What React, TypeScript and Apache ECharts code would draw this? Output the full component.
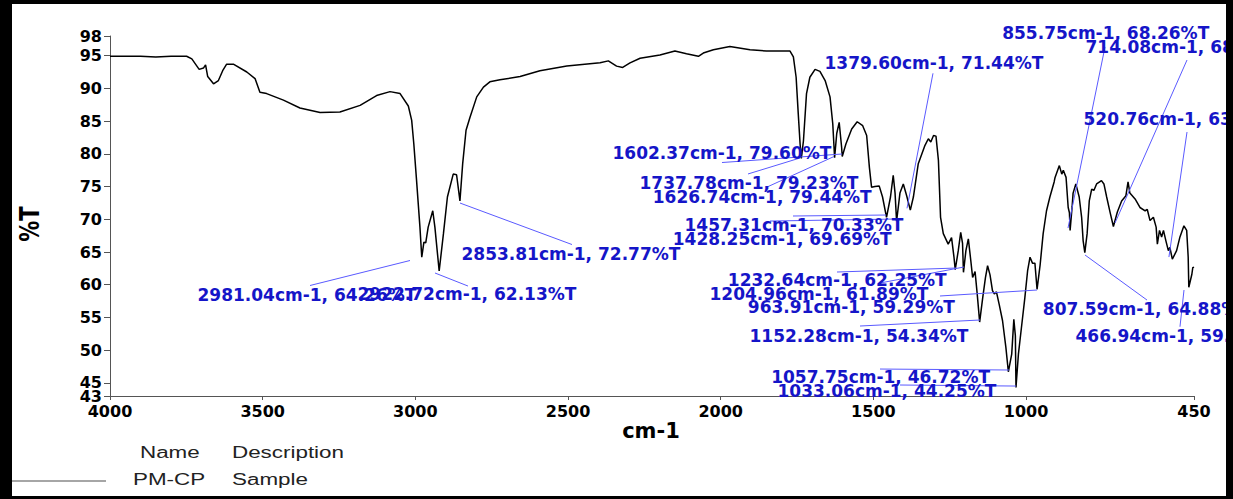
import React, { useEffect, useRef } from "react";
import * as echarts from "echarts";

// FTIR spectrum of sample PM-CP (wavenumber cm-1, %T)
const wavenumbers = [
  4000, 3900, 3850, 3800, 3749, 3732, 3708, 3694, 3687, 3680, 3661, 3645, 3631, 3618, 3596, 3552, 3525, 3509,
  3487, 3432, 3378, 3312, 3247, 3181, 3127, 3083, 3050, 3023, 3012, 3005, 2996, 2985, 2979, 2972, 2966, 2958,
  2943, 2936, 2922, 2908, 2895, 2876, 2865, 2854, 2845, 2834, 2821, 2799, 2777, 2756, 2723, 2657, 2592, 2504,
  2395, 2368, 2341, 2321, 2297, 2264, 2199, 2150, 2112, 2073, 2057, 2024, 1970, 1904, 1850, 1784, 1773, 1762,
  1753, 1746, 1740, 1736, 1729, 1719, 1708, 1691, 1675, 1658, 1642, 1633, 1627, 1620, 1612, 1604, 1602, 1590,
  1571, 1553, 1535, 1522, 1513, 1506, 1495, 1481, 1470, 1457, 1444, 1435, 1429, 1424, 1413, 1402, 1391, 1379,
  1369, 1353, 1331, 1320, 1312, 1303, 1295, 1287, 1280, 1271, 1255, 1244, 1236, 1232, 1222, 1214, 1208, 1205,
  1197, 1189, 1181, 1175, 1167, 1160, 1152, 1142, 1133, 1126, 1118, 1110, 1104, 1097, 1088, 1077, 1066, 1058,
  1047, 1040, 1035, 1033, 1025, 1015, 1004, 995, 987, 979, 971, 964, 954, 944, 933, 922, 908, 905, 891, 883,
  878, 869, 862, 858, 855.75, 849, 846, 837, 826, 818, 813, 807.6, 800, 793, 785, 778, 769, 753, 745, 736, 725,
  714, 701, 687, 673, 666, 660, 643, 627, 610, 603, 594, 583, 574, 570, 563, 556, 550, 542, 534, 529, 521, 507,
  496, 483, 474, 469, 467, 457, 454, 450,
];
const transmittance = [
  94.9, 94.9, 94.8, 94.9, 94.9, 94.5, 92.9, 93.1, 93.6, 91.8, 90.7, 91.2, 92.7, 93.7, 93.7, 92.5, 91.5, 89.4,
  89.2, 88.2, 87.0, 86.3, 86.4, 87.4, 88.9, 89.5, 89.2, 87.3, 85.1, 81.5, 75.9, 68.8, 64.2, 66.5, 66.4, 68.8,
  71.3, 68.8, 62.1, 67.8, 73.4, 76.9, 76.8, 72.8, 78.5, 83.6, 85.6, 88.7, 90.2, 91.0, 91.3, 91.8, 92.7, 93.4,
  93.9, 94.2, 93.4, 93.2, 93.9, 94.6, 95.1, 95.7, 95.3, 94.9, 95.4, 95.9, 96.4, 95.9, 95.7, 95.7, 95.7, 94.8,
  91.7, 86.1, 81.5, 79.3, 82.0, 89.2, 91.7, 92.9, 92.6, 91.2, 88.7, 84.6, 79.4, 83.1, 84.8, 81.0, 79.6, 81.5,
  83.8, 84.9, 84.3, 82.8, 77.9, 74.9, 75.0, 75.1, 73.4, 70.3, 73.4, 76.7, 74.0, 69.7, 74.0, 75.4, 73.6, 71.4,
  73.4, 78.5, 81.3, 82.3, 81.8, 82.8, 82.7, 79.0, 70.3, 67.8, 66.2, 67.2, 64.2, 62.3, 65.2, 68.0, 66.3, 61.9,
  65.2, 67.0, 63.7, 61.1, 62.0, 58.6, 54.3, 58.0, 61.1, 62.9, 61.5, 59.1, 58.6, 58.9, 57.0, 54.5, 50.4, 46.7,
  49.4, 54.7, 52.2, 44.3, 49.4, 53.5, 58.0, 62.1, 64.2, 63.3, 63.3, 59.3, 63.0, 67.8, 71.3, 73.4, 75.7, 76.4, 78.2, 76.9,
  77.5, 76.4, 71.8, 71.0, 68.3, 72.0, 74.0, 75.4, 73.4, 70.3, 66.7, 64.9, 67.8, 72.8, 74.6, 74.4, 75.4, 75.9, 75.4, 73.4, 71.1,
  68.9, 71.1, 72.8, 73.6, 75.7, 74.0, 73.1, 71.8, 71.3, 71.5, 69.8, 70.3, 68.8, 66.2, 68.3, 67.3, 68.3, 66.7, 65.2, 65.7, 63.9, 65.2,
  67.3, 69.0, 68.3, 64.2, 59.6, 61.6, 62.6, 62.7,
];

const xTicks = [4000, 3500, 3000, 2500, 2000, 1500, 1000, 450];
const yTicks = [45, 50, 55, 60, 65, 70, 75, 80, 85, 90, 95, 98];
const yMinTick = [43];

// Peak annotations
const peakTexts = [
  "2981.04cm-1, 64.26%T", "2922.72cm-1, 62.13%T", "2853.81cm-1, 72.77%T", "1602.37cm-1, 79.60%T",
  "1737.78cm-1, 79.23%T", "1626.74cm-1, 79.44%T", "1457.31cm-1, 70.33%T", "1428.25cm-1, 69.69%T",
  "1379.60cm-1, 71.44%T", "855.75cm-1, 68.26%T", "714.08cm-1, 68.93%T", "520.76cm-1, 63.87%T",
  "1232.64cm-1, 62.25%T", "1204.96cm-1, 61.89%T", "963.91cm-1, 59.29%T", "1152.28cm-1, 54.34%T",
  "1057.75cm-1, 46.72%T", "1033.06cm-1, 44.25%T", "807.59cm-1, 64.88%T", "466.94cm-1, 59.61%T",
];
// label anchor (left, middle) in data coordinates
const labelWn = [3711.8, 3187.8, 2847.2, 2352.7, 2264.3, 2220.8, 2116.9, 2155.3, 1658.4, 1076.5, 803.7, 810.2,
  1975.1, 2035.1, 1909.6, 1904.1, 1833.0, 1812.4, 943.5, 836.4];
const labelT = [58.32, 58.58, 64.69, 80.05, 75.49, 73.29, 69.08, 66.98, 93.83, 98.0, 96.24, 85.17,
  60.57, 58.58, 56.52, 52.06, 45.79, 43.65, 56.29, 52.16];
// leader lines in data coordinates
const leaderFromWn = [3345.0, 2935.7, 2853.8, 1995.8, 1910.6, 1851.7, 1763.2, 1838.6, 1304.8, 741.5, 472.9, 472.9,
  1619.1, 1478.3, 1281.8, 1543.8, 1478.3, 1412.8, 806.9, 482.7];
const leaderFromT = [59.88, 61.79, 72.48, 78.67, 76.92, 74.85, 70.50, 69.73, 92.30, 96.32, 94.33, 83.33,
  61.94, 60.26, 58.28, 53.69, 47.12, 44.68, 64.54, 59.19];
const leaderToWn = [3017.5, 2827.6, 2487.0, 1602.8, 1740.3, 1628.9, 1458.7, 1422.6, 1389.9, 862.6, 708.7, 532.1,
  1229.4, 1203.2, 964.2, 1150.8, 1055.9, 1032.9, 603.9, 495.9];
const leaderToT = [63.70, 59.80, 66.14, 79.97, 79.36, 79.59, 70.65, 70.04, 71.67, 68.66, 69.43, 64.23,
  62.55, 62.71, 59.19, 54.61, 46.97, 44.52, 57.66, 53.58];

const seriesName = "PM-CP";
const seriesDescription = "Sample";

export default function App() {
  const ref = useRef<HTMLDivElement>(null);
  useEffect(() => {
    document.body.style.margin = "0";
    if (!ref.current) return;
    const chart = echarts.init(ref.current, undefined, { renderer: "svg" });
    const labelColor = "#1515c8";
    const yLabelStyle = {
      margin: 8, color: "#000", hideOverlap: false,
      formatter: (v: number) => String(v),
      fontFamily: "DejaVu Sans", fontWeight: "bold", fontSize: 16,
    };
    const option: any = {
      animation: false,
      backgroundColor: "#ffffff",
      grid: { left: 110, right: 39, top: 36, bottom: 103 },
      xAxis: {
        type: "value",
        inverse: true,
        min: 450,
        max: 4000,
        axisLine: { show: true, onZero: false, lineStyle: { color: "#555", width: 1 } },
        axisTick: { show: true, customValues: xTicks, length: 4, lineStyle: { color: "#555" } },
        axisLabel: {
          customValues: xTicks, margin: 7, color: "#000", hideOverlap: false,
          showMinLabel: true, showMaxLabel: true,
          formatter: (v: number) => String(v),
          fontFamily: "DejaVu Sans", fontWeight: "bold", fontSize: 16,
        },
        splitLine: { show: false },
      },
      yAxis: [
        {
          type: "value",
          min: 43,
          max: 98,
          position: "left",
          axisLine: { show: true, onZero: false, lineStyle: { color: "#555", width: 1 } },
          axisTick: { show: true, customValues: yTicks, length: 6, lineStyle: { color: "#555" } },
          axisLabel: { ...yLabelStyle, customValues: yTicks },
          splitLine: { show: false },
        },
        {
          type: "value",
          min: 43,
          max: 98,
          position: "left",
          offset: 0,
          axisLine: { show: false },
          axisTick: { show: true, customValues: yMinTick, length: 6, lineStyle: { color: "#555" } },
          axisLabel: { ...yLabelStyle, customValues: yMinTick },
          splitLine: { show: false },
        },
      ],
      series: [
        {
          name: seriesName,
          type: "line",
          yAxisIndex: 0,
          data: wavenumbers.map((w, i) => [w, transmittance[i]]),
          showSymbol: false,
          symbol: "none",
          clip: false,
          silent: true,
          lineStyle: { color: "#000", width: 1.5 },
          markLine: {
            silent: true,
            symbol: ["none", "none"],
            label: { show: false },
            lineStyle: { color: "#5a5aff", width: 1, type: "solid" },
            emphasis: { disabled: true },
            data: leaderFromWn.map((w, i) => [
              { coord: [w, leaderFromT[i]] },
              { coord: [leaderToWn[i], leaderToT[i]] },
            ]),
          },
          markPoint: {
            silent: true,
            data: peakTexts.map((t, i) => ({
              coord: [labelWn[i], labelT[i]],
              symbol: "circle",
              symbolSize: 1,
              itemStyle: { color: "rgba(0,0,0,0)" },
              label: {
                show: true,
                formatter: t,
                position: [0, 0],
                offset: i === 9 ? [0, -3] : [0, 0],
                align: "left",
                verticalAlign: "middle",
                color: labelColor,
                fontFamily: "DejaVu Sans",
                fontWeight: "bold",
                fontSize: 17,
              },
            })),
          },
        },
      ],
      graphic: [
        {
          type: "text", x: 29, y: 224, rotation: Math.PI / 2, scaleY: 1.3, z: 50,
          style: { text: "%T", font: 'bold 21px "DejaVu Sans"', fill: "#000", align: "center", verticalAlign: "middle" },
        },
        {
          type: "text", x: 651, y: 431, z: 50,
          style: { text: "cm-1", font: 'bold 21px "DejaVu Sans"', fill: "#000", align: "center", verticalAlign: "middle" },
        },
        {
          type: "text", x: 140, y: 452, scaleX: 1.4, z: 50,
          style: { text: "Name", font: '16px "Liberation Sans"', fill: "#222", align: "left", verticalAlign: "middle" },
        },
        {
          type: "text", x: 232, y: 452, scaleX: 1.4, z: 50,
          style: { text: "Description", font: '16px "Liberation Sans"', fill: "#222", align: "left", verticalAlign: "middle" },
        },
        {
          type: "line", z: 50,
          shape: { x1: 12, y1: 481, x2: 106, y2: 481 },
          style: { stroke: "#888", lineWidth: 1.5 },
        },
        {
          type: "text", x: 133, y: 479, scaleX: 1.4, z: 50,
          style: { text: seriesName, font: '16px "Liberation Sans"', fill: "#222", align: "left", verticalAlign: "middle" },
        },
        {
          type: "text", x: 232, y: 479, scaleX: 1.4, z: 50,
          style: { text: seriesDescription, font: '16px "Liberation Sans"', fill: "#222", align: "left", verticalAlign: "middle" },
        },
        // frame
        { type: "rect", z: 100, shape: { x: 0, y: 0, width: 12, height: 499 }, style: { fill: "#000" } },
        { type: "rect", z: 100, shape: { x: 0, y: 0, width: 1233, height: 4 }, style: { fill: "#000" } },
        { type: "rect", z: 100, shape: { x: 1226, y: 0, width: 7, height: 499 }, style: { fill: "#000" } },
        { type: "rect", z: 100, shape: { x: 0, y: 496, width: 1233, height: 3 }, style: { fill: "#000" } },
      ],
    };
    chart.setOption(option);
    return () => chart.dispose();
  }, []);
  return <div ref={ref} style={{ width: 1233, height: 499 }} />;
}
